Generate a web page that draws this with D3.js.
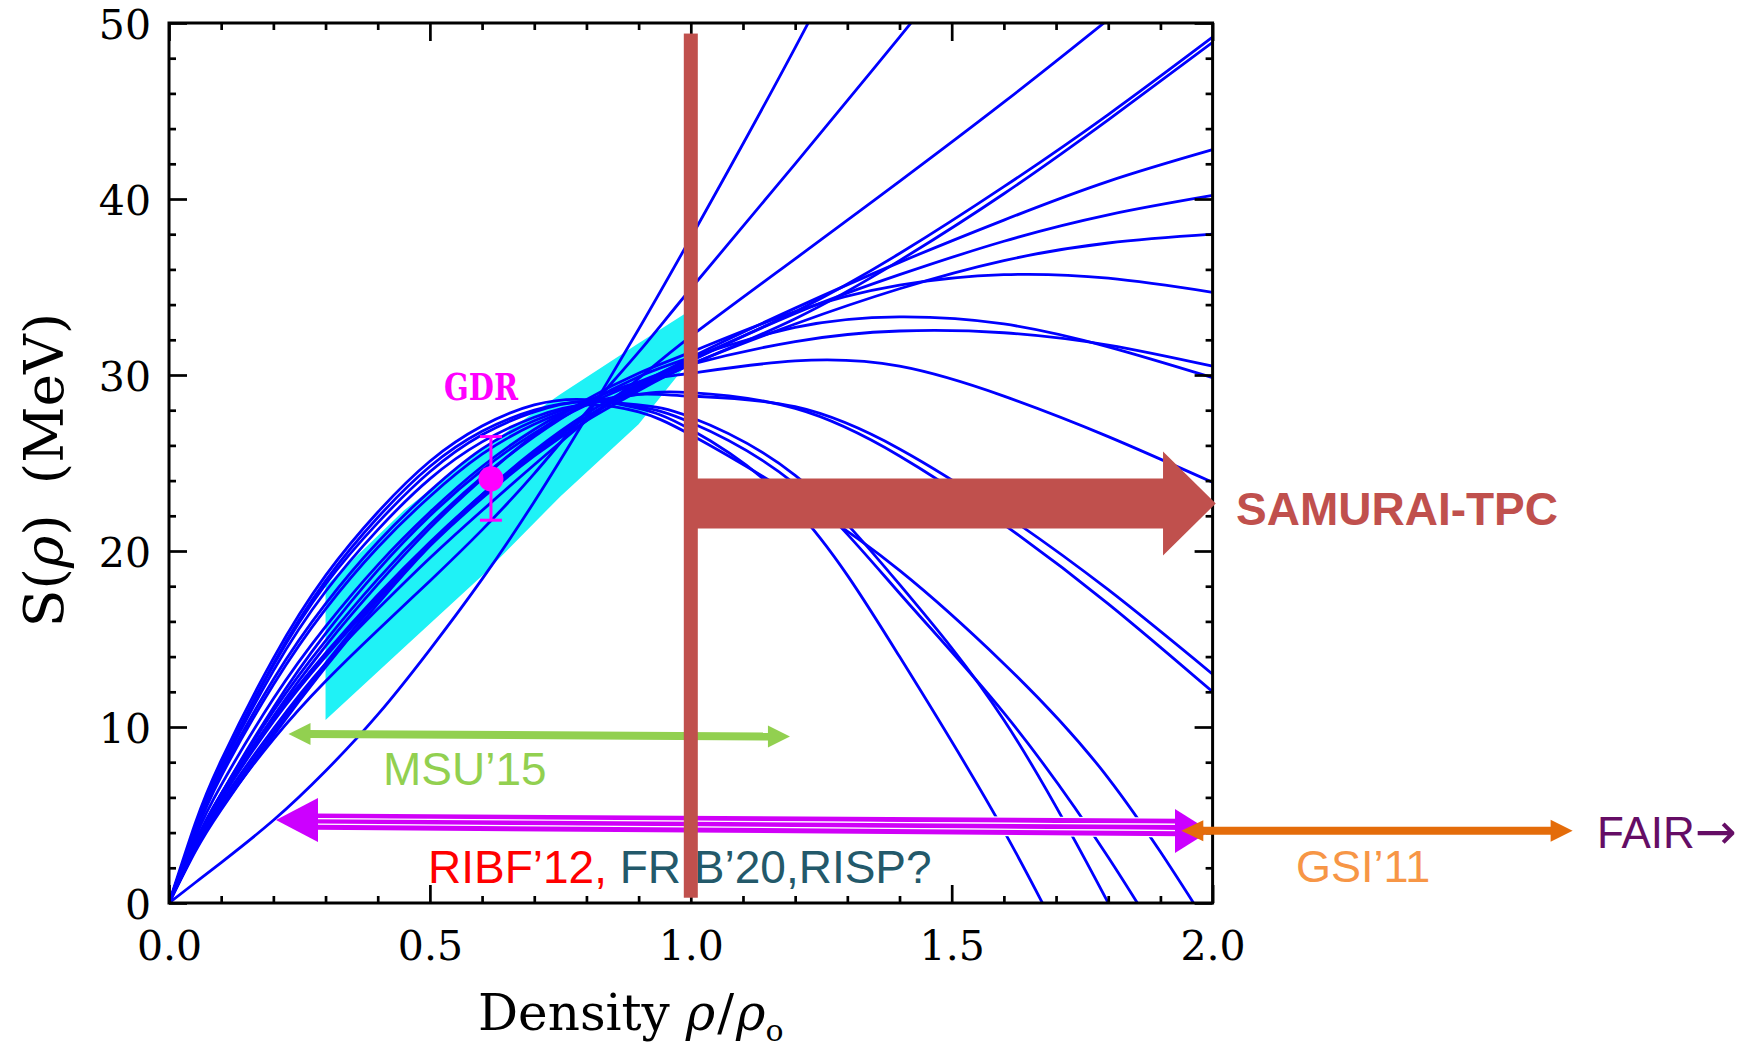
<!DOCTYPE html>
<html>
<head>
<meta charset="utf-8">
<script src="https://cdn.jsdelivr.net/npm/d3@7"></script>
<style>
  body { margin: 0; background: #fff; }
  text { font-family: "DejaVu Serif", serif; }
  .sans { font-family: "Liberation Sans", Arial, sans-serif; }
</style>
</head>
<body>
<svg id="chart" width="1754" height="1051"></svg>
<script>
// density grid (rho / rho0)
const rho = [0, 0.05, 0.1, 0.2, 0.3, 0.4, 0.5, 0.6, 0.7, 0.8, 0.9, 1.0, 1.2, 1.4, 1.6, 1.8, 2.0];

// S(rho) in MeV, one array per parametrisation
// soft ones (high at low density, turning over)
const sD1 = [0, 4.5, 8.1, 13.9, 18.6, 22.2, 25.1, 27.1, 28.3, 28.6, 28.1, 26.9, 22.4, 14.0, 4.1, -7.5, -20];
const sD2 = [0, 4.25, 7.8, 13.6, 18.3, 21.9, 24.8, 26.8, 28.0, 28.5, 28.3, 27.6, 24.3, 18.1, 10.4, 0.0, -11.5];
const sD3 = [0, 4.2, 7.8, 13.5, 18.1, 21.6, 24.5, 26.6, 27.9, 28.5, 28.2, 27.3, 23.8, 17.6, 10.8, 2.6, -7];
const sD4 = [0, 4.1, 7.6, 13.2, 17.7, 21.2, 24.1, 26.2, 27.6, 28.3, 27.9, 26.6, 23.1, 18.9, 13.6, 7.1, -1.7];
const sG1 = [0, 4.0, 7.4, 12.7, 17.0, 20.5, 23.4, 25.8, 27.4, 28.4, 28.9, 28.8, 28.2, 25.8, 22.1, 17.8, 13.0];
const sG2 = [0, 3.9, 7.2, 12.4, 16.7, 20.2, 23.1, 25.5, 27.2, 28.3, 28.9, 29.0, 28.1, 25.4, 21.5, 17.0, 12.0];
const sE  = [0, 3.7, 6.7, 11.6, 15.7, 19.2, 22.2, 24.8, 26.9, 28.5, 29.6, 30.1, 30.8, 30.5, 28.8, 26.5, 23.9];
// stiffer ones
const sF2 = [0, 3.4, 6.2, 11.1, 15.3, 18.9, 22.0, 24.6, 26.7, 28.3, 29.6, 30.6, 31.9, 32.5, 32.4, 31.7, 30.5];
const sF1 = [0, 3.4, 6.2, 10.9, 14.9, 18.4, 21.5, 24.2, 26.5, 28.4, 29.9, 31.0, 32.7, 33.3, 32.9, 31.6, 29.85];
const sH4 = [0, 3.3, 6.0, 10.6, 14.6, 18.1, 21.3, 24.1, 26.6, 28.6, 30.1, 31.3, 33.6, 35.1, 35.7, 35.5, 34.7];
const sH3 = [0, 3.2, 5.9, 10.3, 14.0, 17.3, 20.3, 23.0, 25.4, 27.4, 29.1, 30.6, 32.9, 34.9, 36.5, 37.5, 38.0];
const sH2 = [0, 3.4, 6.2, 10.5, 14.2, 17.5, 20.5, 23.2, 25.6, 27.6, 29.3, 30.8, 33.5, 35.7, 37.6, 39.1, 40.2];
const sH1 = [0, 3.4, 6.1, 10.4, 14.1, 17.4, 20.4, 23.1, 25.5, 27.6, 29.4, 31.0, 33.8, 36.4, 38.8, 41.0, 42.8];
const sP1 = [0, 3.0, 5.5, 9.7, 13.6, 17.2, 20.4, 23.2, 25.6, 27.6, 29.2, 30.6, 33.2, 36.5, 40.3, 44.5, 48.9];
const sP2 = [0, 2.9, 5.3, 9.5, 13.4, 17.0, 20.3, 23.2, 25.7, 27.8, 29.5, 30.9, 33.6, 36.9, 40.7, 44.8, 49.2];
const sC  = [0, 3.1, 5.7, 9.9, 13.6, 16.7, 19.6, 22.3, 24.9, 27.4, 29.8, 32.2, 36.6, 41.0, 45.5, 50.2, 55];
const sB  = [0, 3.0, 5.4, 9.3, 12.6, 15.5, 18.3, 21.2, 24.4, 27.9, 31.3, 34.9, 42.0, 49.2, 56.5, 64, 72];
const sA  = [0, 1.15, 2.3, 4.7, 7.5, 10.7, 14.4, 18.4, 22.8, 27.6, 32.6, 37.8, 48.6, 60, 71, 82, 93];

const curves = [sD1, sD2, sD3, sD4, sG1, sG2, sE, sF2, sF1, sH4, sH3, sH2, sH1, sP1, sP2, sC, sB, sA];

// constraint band (cyan)
const bandRho   = [0.3, 0.45, 0.6, 0.75, 0.9, 1.0];
const bandUpper = [18.0, 22.3, 25.8, 28.9, 31.8, 33.7];
const bandLower = [10.4, 14.5, 18.6, 23.1, 27.2, 30.9];

// GDR point
const gdrRho = 0.617, gdrS = 24.1, gdrLow = 21.75, gdrHigh = 26.5;

// ticks
const xMajor = [0, 0.5, 1.0, 1.5, 2.0];
const yMajor = [0, 10, 20, 30, 40, 50];
const xMinor = d3.range(0, 21).filter(i => i % 5 !== 0).map(i => i / 10);
const yMinor = d3.range(0, 51, 2).filter(v => v % 10 !== 0);

const svg = d3.select("#chart");
const L = 169, R = 1212.6, T = 23, B = 903;

const x = d3.scaleLinear().domain([0, 2]).range([L, R]);
const y = d3.scaleLinear().domain([0, 50]).range([B, T]);

svg.append("defs").append("clipPath").attr("id", "plotClip")
  .append("rect").attr("x", L).attr("y", T).attr("width", R - L).attr("height", B - T);

const plot = svg.append("g").attr("clip-path", "url(#plotClip)");

// cyan band
const bandPts = bandRho.map((r, i) => [x(r), y(bandUpper[i])])
  .concat(bandRho.map((r, i) => [x(r), y(bandLower[i])]).reverse());
plot.append("path")
  .attr("d", d3.line()(bandPts) + "Z")
  .attr("fill", "#1ff2f6");

// blue curves
const line = d3.line()
  .x((d, i) => x(rho[i]))
  .y(d => y(d))
  .curve(d3.curveNatural);

plot.selectAll(".sym")
  .data(curves)
  .enter().append("path")
  .attr("class", "sym")
  .attr("d", line)
  .attr("fill", "none")
  .attr("stroke", "#0000ff")
  .attr("stroke-width", 2.8);

// GDR point
const gx0 = x(gdrRho);
svg.append("line").attr("x1", gx0).attr("x2", gx0).attr("y1", y(gdrLow)).attr("y2", y(gdrHigh))
  .attr("stroke", "#ff00ff").attr("stroke-width", 3);
[gdrLow, gdrHigh].forEach(v => {
  svg.append("line").attr("x1", gx0 - 11).attr("x2", gx0 + 11).attr("y1", y(v)).attr("y2", y(v))
    .attr("stroke", "#ff00ff").attr("stroke-width", 3);
});
svg.append("circle").attr("cx", gx0).attr("cy", y(gdrS)).attr("r", 12.5).attr("fill", "#ff00ff");
svg.append("text").attr("x", 444).attr("y", 400)
  .attr("textLength", 74).attr("lengthAdjust", "spacingAndGlyphs")
  .style("font-family", "'DejaVu Serif', serif")
  .style("font-size", "37px")
  .style("font-weight", "bold")
  .attr("fill", "#ff00ff")
  .text("GDR");

// helper: triangle arrow head, tip at (tx,ty) pointing dir (+1 right, -1 left)
function head(g, tx, ty, dir, len, half, color) {
  g.append("path")
    .attr("d", d3.line()([[tx, ty], [tx - dir * len, ty - half], [tx - dir * len, ty + half]]) + "Z")
    .attr("fill", color);
}

// MSU'15 green arrow
const green = "#92d050";
const gL = [x(0.229), y(9.6)], gR = [x(1.19), y(9.46)];
svg.append("line").attr("x1", gL[0] + 18).attr("y1", gL[1]).attr("x2", gR[0] - 18).attr("y2", gR[1])
  .attr("stroke", green).attr("stroke-width", 8);
head(svg, gL[0], gL[1], -1, 22, 11, green);
head(svg, gR[0], gR[1], 1, 22, 11, green);
svg.append("text").attr("class", "sans").attr("x", 383).attr("y", 785)
  .style("font-size", "46px").attr("fill", green).text("MSU\u201915");

// RIBF magenta triple arrow
const mag = "#d000f8";
const mL = [x(0.205), y(4.72)], mR = [x(1.995), y(4.09)];
const ribfLeft = [4.94, 4.62, 4.30], ribfRight = [4.64, 4.29, 3.94];
ribfLeft.forEach((v, i) => {
  const x1 = x(0.28), y1 = y(v), x2 = x(1.94), y2 = y(ribfRight[i]);
  svg.append("line").attr("x1", x1).attr("y1", y1).attr("x2", x2).attr("y2", y2)
    .attr("stroke", "#fff").attr("stroke-width", 7.5);
  svg.append("line").attr("x1", x1).attr("y1", y1).attr("x2", x2).attr("y2", y2)
    .attr("stroke", mag).attr("stroke-width", 5);
});
head(svg, mL[0], mL[1], -1, 42, 22, "#cc00ff");
head(svg, mR[0], mR[1], 1, 35, 22, "#cc00ff");

const ribf = svg.append("text").attr("class", "sans").attr("x", 428).attr("y", 883)
  .style("font-size", "46px");
ribf.append("tspan").attr("fill", "#ff0000").text("RIBF\u201912,");
ribf.append("tspan").attr("fill", "#23596a").text(" FRIB\u201920,RISP?");

// frame and axes
svg.append("rect").attr("x", L).attr("y", T).attr("width", R - L).attr("height", B - T)
  .attr("fill", "none").attr("stroke", "#000").attr("stroke-width", 3);

function styleAxis(g) {
  g.select(".domain").remove();
  g.selectAll("line").attr("stroke-width", 2.7);
  g.attr("font-family", "DejaVu Serif, serif").attr("font-size", 41);
}

svg.append("g").attr("transform", `translate(0,${B})`)
  .call(d3.axisBottom(x).tickValues(xMajor).tickSize(-18).tickPadding(28).tickFormat(d3.format(".1f")))
  .call(styleAxis);
svg.append("g").attr("transform", `translate(0,${B})`)
  .call(d3.axisBottom(x).tickValues(xMinor).tickSize(-7).tickFormat(""))
  .call(styleAxis);
svg.append("g").attr("transform", `translate(0,${T})`)
  .call(d3.axisTop(x).tickValues(xMajor).tickSize(-18).tickFormat(""))
  .call(styleAxis);
svg.append("g").attr("transform", `translate(0,${T})`)
  .call(d3.axisTop(x).tickValues(xMinor).tickSize(-7).tickFormat(""))
  .call(styleAxis);

const yl = svg.append("g").attr("transform", `translate(${L},0)`)
  .call(d3.axisLeft(y).tickValues(yMajor).tickSize(-18).tickPadding(18).tickFormat(d3.format("d")))
  .call(styleAxis);
yl.selectAll("text").attr("dy", "0.38em");
svg.append("g").attr("transform", `translate(${L},0)`)
  .call(d3.axisLeft(y).tickValues(yMinor).tickSize(-7).tickFormat(""))
  .call(styleAxis);
svg.append("g").attr("transform", `translate(${R},0)`)
  .call(d3.axisRight(y).tickValues(yMajor).tickSize(-18).tickFormat(""))
  .call(styleAxis);
svg.append("g").attr("transform", `translate(${R},0)`)
  .call(d3.axisRight(y).tickValues(yMinor).tickSize(-7).tickFormat(""))
  .call(styleAxis);

// axis titles
const xt = svg.append("text").attr("x", 478).attr("y", 1030).style("font-size", "50px");
xt.append("tspan").text("Density ");
xt.append("tspan").style("font-style", "italic").text("\u03c1");
xt.append("tspan").attr("dx", 2).text("/");
xt.append("tspan").attr("dx", 2).style("font-style", "italic").text("\u03c1");
xt.append("tspan").attr("dy", 11).style("font-size", "30px").text("o");

const yt = svg.append("text")
  .attr("transform", "translate(63,470) rotate(-90)")
  .attr("text-anchor", "middle")
  .style("font-size", "55px");
yt.append("tspan").text("S(");
yt.append("tspan").style("font-style", "italic").text("\u03c1");
yt.append("tspan").text(")");
yt.append("tspan").attr("dx", 30).text("(MeV)");

// SAMURAI-TPC red bar + arrow
const red = "#c0504d";
svg.append("rect")
  .attr("x", x(1.0) - 7).attr("width", 14)
  .attr("y", y(49.4)).attr("height", y(0.3) - y(49.4))
  .attr("fill", red);
const yc = y(22.7), xb = x(1.905), xtip = x(2.006), xs = x(1.0) - 5;
svg.append("path")
  .attr("d", d3.line()([[xs, yc - 25], [xb, yc - 25], [xb, yc - 52], [xtip, yc],
    [xb, yc + 52], [xb, yc + 25], [xs, yc + 25]]) + "Z")
  .attr("fill", red);
svg.append("text").attr("class", "sans").attr("x", 1236).attr("y", 525)
  .style("font-size", "46px").style("font-weight", "bold").attr("fill", red)
  .text("SAMURAI-TPC");

// GSI'11 orange arrow
const orange = "#e46c0a";
const oL = [x(1.94), y(4.1)], oR = [x(2.69), y(4.1)];
svg.append("line").attr("x1", oL[0] + 18).attr("y1", oL[1]).attr("x2", oR[0] - 18).attr("y2", oR[1])
  .attr("stroke", orange).attr("stroke-width", 8);
head(svg, oL[0], oL[1], -1, 22, 10.5, orange);
head(svg, oR[0], oR[1], 1, 22, 11, orange);
svg.append("text").attr("class", "sans").attr("x", 1296).attr("y", 882)
  .style("font-size", "45px").attr("fill", "#f79646").text("GSI\u201911");
const fair = svg.append("text").attr("class", "sans").attr("x", 1597).attr("y", 848)
  .style("font-size", "44px").attr("fill", "#650d65");
fair.append("tspan").text("FAIR");
fair.append("tspan").style("font-family", "'DejaVu Sans', sans-serif").style("font-size", "50px")
  .attr("dy", 1).text("\u2192");
</script>
</body>
</html>
